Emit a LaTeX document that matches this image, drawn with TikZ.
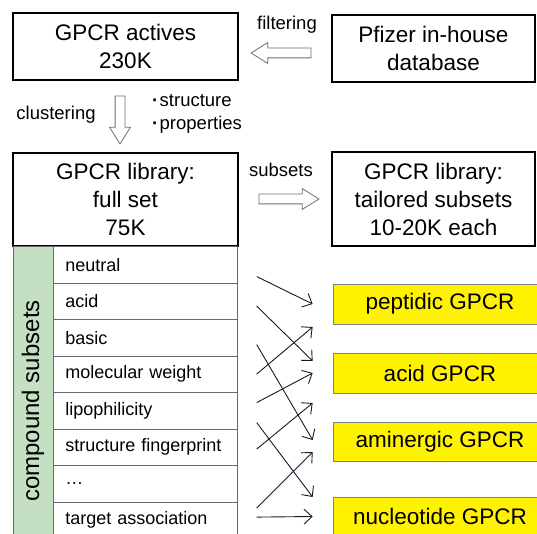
\documentclass[tikz,border=0pt]{standalone}
\usepackage{fontspec}
\setmainfont{Liberation Sans}
\usetikzlibrary{
    arrows.meta,
    shapes.arrows
}
\definecolor{tablegreen}{RGB}{196,223,193}
\definecolor{rowline}{RGB}{105,105,118}
\definecolor{hollowgray}{RGB}{110,110,110}
\definecolor{linkdark}{RGB}{25,27,40}
\newcommand{\boxfont}{\fontsize{22.5}{28}\selectfont}
\newcommand{\rowfont}{\fontsize{18}{21}\selectfont}
\newcommand{\notefont}{\fontsize{18.5}{23}\selectfont}

\begin{document}
\begin{tikzpicture}[x=1pt, y=-1pt,
    stagebox/.style={draw=black, line width=1.5pt, align=center,
                     font=\boxfont, inner sep=0pt},
    rowcell/.style={draw=rowline, line width=0.7pt, anchor=north west,
                    minimum width=184pt, minimum height=36.5pt,
                    text width=160pt, inner xsep=12pt, inner ysep=0pt,
                    align=left, font=\rowfont},
    targetbox/.style={draw=gray, line width=0.7pt, fill=yellow,
                      minimum width=214pt, minimum height=40pt, font=\boxfont},
    hollow/.style={single arrow, draw=hollowgray, fill=white, line width=0.8pt,
                   inner sep=0pt, text height=9pt, text depth=0pt,
                   minimum width=20pt, single arrow head extend=5.5pt,
                   single arrow tip angle=64},
    link/.style={draw=linkdark, line width=0.9pt,
                 -{Straight Barb[length=8pt, width=15pt]}}
]
    \fill[white] (0,0) rectangle (537,534);
    \clip (0,0) rectangle (537,534);

    %% Stage boxes
        \node[stagebox, minimum width=225pt, minimum height=67pt]
              (actives) at (125.5,46.5) {GPCR actives\\230K};
        \node[stagebox, minimum width=203pt, minimum height=67pt]
              (pfizer) at (433.5,48.5) {Pfizer in-house\\database};
        \node[stagebox, minimum width=225pt, minimum height=93pt]
              (fullset) at (125.5,199.5) {GPCR library:\\full set\\75K};
        \node[stagebox, minimum width=203pt, minimum height=94pt]
              (tailored) at (433.5,199) {GPCR library:\\tailored subsets\\10-20K each};

    %% Hollow arrows and their labels
        \node[hollow, minimum height=60pt, rotate=180] (filterarrow) at (285,53) {};
        \node[font=\notefont] (filterlabel) at (287,25) {filtering};
        \node[hollow, minimum height=48pt, rotate=-90] (clusterarrow) at (120,116) {};
        \node[font=\notefont] (clusterlabel) at (56,115) {clustering};
        \node[font=\notefont, align=left] (criteria) at (197,114)
              {\textbf{·}\kern1.5pt structure\\\textbf{·}\kern1.5pt properties};
        \node[hollow, minimum height=60pt] (subsetarrow) at (285,199) {};
        \node[font=\notefont] (subsetlabel) at (281,170) {subsets};

    %% Compound subsets table
        \node[draw=rowline, line width=0.7pt, fill=tablegreen, rotate=90,
              minimum width=310pt, minimum height=40pt, inner sep=0pt,
              font=\fontsize{24}{28}\selectfont]
              (compound) at (33,401) {compound subsets};
        \node[rowcell] (neutral) at (53,246) {neutral};
        \node[rowcell] (acid) at (53,282.5) {acid};
        \node[rowcell] (basic) at (53,319) {basic};
        \node[rowcell] (weight) at (53,355.5) {molecular weight};
        \node[rowcell] (lipo) at (53,392) {lipophilicity};
        \node[rowcell] (finger) at (53,428.5) {structure fingerprint};
        \node[rowcell] (more) at (53,465) {\dots};
        \node[rowcell] (target) at (53,501.5) {target association};

    %% Target classes
        \node[targetbox] (peptidic) at (440,304) {peptidic GPCR};
        \node[targetbox] (acidic) at (440,373) {acid GPCR};
        \node[targetbox, minimum height=39pt] (aminergic) at (440,441.5) {aminergic GPCR};
        \node[targetbox, minimum height=39pt] (nucleotide) at (440,516.5) {nucleotide GPCR};

    %% Edges
        \draw[link] ([xshift=19pt, yshift=-12pt]neutral.east) -- ([xshift=-20pt]peptidic.west);
        \draw[link] ([xshift=19pt, yshift=-5pt]acid.east) -- ([xshift=-20pt, yshift=12pt]acidic.west);
        \draw[link] ([xshift=19pt, yshift=-7pt]basic.east) -- ([xshift=-20pt, yshift=1.5pt]aminergic.west);
        \draw[link] ([xshift=19pt]weight.east) -- ([xshift=-20pt, yshift=-23pt]peptidic.west);
        \draw[link] ([xshift=19pt, yshift=8pt]lipo.east) -- ([xshift=-20pt]acidic.west);
        \draw[link] ([xshift=19pt, yshift=-12pt]lipo.east) -- ([xshift=-20pt, yshift=19.5pt]nucleotide.west);
        \draw[link] ([xshift=19pt, yshift=-2pt]finger.east) -- ([xshift=-20pt, yshift=38.5pt]aminergic.west);
        \draw[link] ([xshift=19pt, yshift=12pt]target.east) -- ([xshift=-20pt, yshift=-10.5pt]aminergic.west);
        \draw[link] ([xshift=19pt, yshift=3pt]target.east) -- ([xshift=-20pt]nucleotide.west);
\end{tikzpicture}
\end{document}
